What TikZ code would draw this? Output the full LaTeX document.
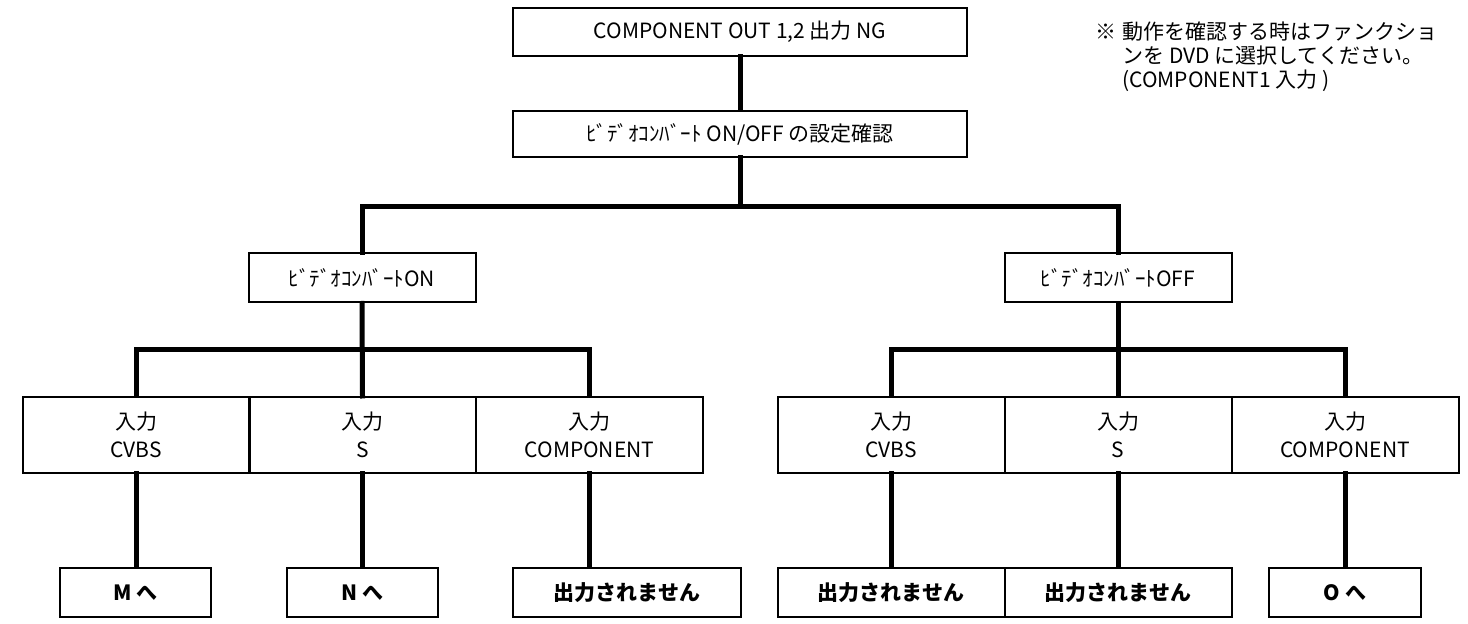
\documentclass[tikz,border=0pt]{standalone}
\usepackage{fontspec}
\setmainfont{Noto Sans CJK JP}
\usepackage{tikz}
\usetikzlibrary{positioning,calc}
\tikzset{
	box/.style={draw, line width=1pt, minimum height=24pt,
		minimum width=113.5pt, align=center, inner sep=0pt,
		font=\fontsize{10.5}{14}\selectfont},
	topbox/.style={box, minimum width=227pt},
	inbox/.style={box, minimum height=38pt},
	endbox/.style={box, minimum height=24.5pt, font=\fontsize{10.5}{14}\selectfont\bfseries},
	conn/.style={line width=2.5pt, line join=miter, line cap=rect},
	note/.style={align=left, inner sep=0pt, font=\fontsize{10.5}{12}\selectfont},
}

\begin{document}
\begin{tikzpicture}[x=0.5pt, y=-0.5pt]
	\useasboundingbox (0,0) rectangle (1468,624);
	\node[topbox] at (740,32) (top) {COMPONENT OUT 1,2 出力 NG};
	\node[topbox, minimum height=23pt] at (740,134) (chk) {ﾋﾞﾃﾞｵｺﾝﾊﾞｰﾄ ON/OFF の設定確認};
	\node[box, minimum height=24.5pt] at (362,278) (on) {ﾋﾞﾃﾞｵｺﾝﾊﾞｰﾄON};
	\node[box, minimum height=24.5pt] at (1118,278) (off) {ﾋﾞﾃﾞｵｺﾝﾊﾞｰﾄOFF};
	\node[inbox] at (136,435) (lcv) {入力\\CVBS};
	\node[inbox] at (362.5,435) (ls) {入力\\S};
	\node[inbox] at (589.5,435) (lcp) {入力\\COMPONENT};
	\node[inbox] at (891,435) (rcv) {入力\\CVBS};
	\node[inbox] at (1118,435) (rs) {入力\\S};
	\node[inbox] at (1345,435) (rcp) {入力\\COMPONENT};
	\node[endbox, minimum width=75.5pt] at (135.5,592.5) (tom) {M へ};
	\node[endbox, minimum width=75.5pt] at (362.5,592.5) (ton) {N へ};
	\node[endbox, minimum width=114pt] at (627,592.5) (lno) {出力されません};
	\node[endbox] at (891,592.5) (rno1) {出力されません};
	\node[endbox] at (1118,592.5) (rno2) {出力されません};
	\node[endbox, minimum width=76pt] at (1345,592.5) (too) {O へ};
	\node[note, anchor=north west] at (1095,21) (memo) {※\hspace{3pt}動作を確認する時はファンクショ\\
		\hspace*{13.5pt}ンを DVD に選択してください。\\
		\hspace*{13.5pt}(COMPONENT1 入力 )};
	% branches
	\coordinate (b1) at (740,207);
	\coordinate (b2) at (362,350);
	\coordinate (b3) at (1118,350);
	\draw[conn] (top.south) -- (chk.north);
	\draw[conn] (chk.south) -- (b1);
	\draw[conn] (on.north) |- (b1) -| (off.north);
	\draw[conn] (on.south) -- (ls.north);
	\draw[conn] (lcv.north) |- (b2) -| (lcp.north);
	\draw[conn] (off.south) -- (rs.north);
	\draw[conn] (rcv.north) |- (b3) -| (rcp.north);
	\draw[conn] (lcv.south) -- (lcv.south |- tom.north);
	\draw[conn] (ls.south) -- (ls.south |- ton.north);
	\draw[conn] (lcp.south) -- (lcp.south |- lno.north);
	\draw[conn] (rcv.south) -- (rno1.north);
	\draw[conn] (rs.south) -- (rno2.north);
	\draw[conn] (rcp.south) -- (too.north);
\end{tikzpicture}
\end{document}
